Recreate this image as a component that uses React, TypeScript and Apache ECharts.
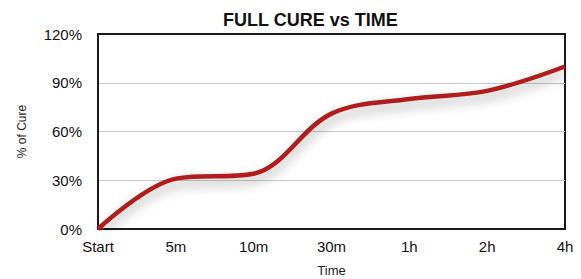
import React, { useEffect, useRef } from "react";
import * as echarts from "echarts";

const categories = ["Start", "5m", "10m", "30m", "1h", "2h", "4h"];
const cureValues = [0, 31, 34, 71, 80, 85, 100];
const yTicks = [0, 30, 60, 90, 120];

const FONT = "'Liberation Sans', Arial, Helvetica, sans-serif";

export default function App() {
  const ref = useRef<HTMLDivElement>(null);
  useEffect(() => {
    if (!ref.current) return;
    const chart = echarts.init(ref.current, null, { renderer: "svg" });
    chart.setOption({
      animation: false,
      backgroundColor: "#ffffff",
      title: {
        text: "FULL CURE vs TIME",
        left: 218,
        top: 6,
        textStyle: { fontFamily: FONT, fontSize: 18, fontWeight: "bold", color: "#111" },
      },
      grid: {
        left: 98,
        right: 16,
        top: 34,
        bottom: 50,
        outerBoundsMode: "none",
        containLabel: false,
        show: true,
        borderColor: "#1a1a1a",
        borderWidth: 2,
        backgroundColor: "transparent",
      },
      xAxis: {
        type: "category",
        data: categories,
        boundaryGap: false,
        name: "Time",
        nameLocation: "middle",
        nameGap: 35,
        nameTextStyle: { fontFamily: FONT, fontSize: 13, color: "#222" },
        axisLine: { show: true, lineStyle: { color: "#1a1a1a", width: 2 } },
        axisTick: { show: false },
        axisLabel: { fontFamily: FONT, fontSize: 15, color: "#111", margin: 10 },
        splitLine: { show: false },
      },
      yAxis: {
        type: "value",
        min: yTicks[0],
        max: yTicks[yTicks.length - 1],
        interval: 30,
        name: "% of Cure",
        nameLocation: "middle",
        nameGap: 70,
        nameTextStyle: { fontFamily: FONT, fontSize: 12, color: "#222" },
        axisLine: { show: true, lineStyle: { color: "#1a1a1a", width: 2 } },
        axisTick: { show: false },
        axisLabel: { fontFamily: FONT, fontSize: 15, color: "#111", margin: 16, formatter: "{value}%" },
        splitLine: { show: true, showMinLine: false, showMaxLine: false, lineStyle: { color: "#c8c8c8", width: 1 } },
      },
      series: [
        {
          type: "line",
          data: cureValues,
          smooth: 0.35,
          showSymbol: false,
          lineStyle: {
            color: "#b11a1a",
            width: 4.5,
            shadowColor: "rgba(0,0,0,0.35)",
            shadowBlur: 12,
            shadowOffsetY: 6,
          },
        },
      ],
    });
    return () => chart.dispose();
  }, []);
  return <div ref={ref} style={{ position: "fixed", left: 0, top: 0, width: 581, height: 279 }} />;
}
